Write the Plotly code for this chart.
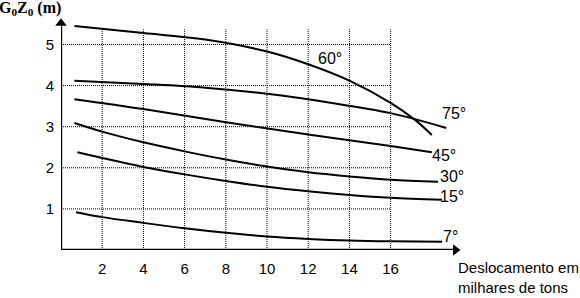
import plotly.graph_objects as go

# ---- data (x: thousands of tons, y: G0Z0 in m) ----
x60 = [0.65, 4, 7, 10, 12, 14, 16, 17.2, 18.0]
y60 = [5.45, 5.28, 5.12, 4.83, 4.52, 4.12, 3.58, 3.16, 2.80]

x75 = [0.65, 4, 7, 10, 13, 16, 18.7]
y75 = [4.12, 4.04, 3.95, 3.80, 3.59, 3.33, 2.97]

x45 = [0.65, 4, 8, 12, 16, 18.0]
y45 = [3.67, 3.43, 3.11, 2.81, 2.53, 2.38]

x30 = [0.65, 2, 4, 6, 8, 10, 12, 14, 16, 18.3]
y30 = [3.09, 2.88, 2.62, 2.40, 2.20, 2.03, 1.89, 1.79, 1.71, 1.66]

x15 = [0.8, 2, 4, 6, 8, 10, 12, 14, 16, 18.5]
y15 = [2.38, 2.24, 2.02, 1.84, 1.68, 1.54, 1.43, 1.34, 1.27, 1.22]

x7 = [0.73, 2, 4, 6, 8, 10, 12, 14, 16, 18.5]
y7 = [0.92, 0.80, 0.66, 0.53, 0.42, 0.33, 0.27, 0.23, 0.21, 0.20]

series = [("60°", x60, y60), ("75°", x75, y75), ("45°", x45, y45),
          ("30°", x30, y30), ("15°", x15, y15), ("7°", x7, y7)]

# curve label positions (data coords)
labels = {"60°": (13.06, 4.65), "75°": (19.1, 3.33), "45°": (18.6, 2.31),
          "30°": (19.0, 1.78), "15°": (19.0, 1.31), "7°": (18.9, 0.32)}

xticks = [2, 4, 6, 8, 10, 12, 14, 16]
yticks = [1, 2, 3, 4, 5]

y_title = "<b>G<sub>0</sub>Z<sub>0</sub> (m)</b>"
x_title = ["Deslocamento em", "milhares de tons"]

x_axis_end = 19.15
y_axis_end = 5.52

# ---- figure ----
fig = go.Figure()
for name, xs, ys in series:
    fig.add_trace(go.Scatter(x=xs, y=ys, mode="lines", name=name,
                             line=dict(color="black", width=2, shape="spline", smoothing=1),
                             hoverinfo="skip", showlegend=False))

# arrowheads of the axes
fig.add_trace(go.Scatter(x=[x_axis_end, 0], y=[0, y_axis_end], mode="markers",
                         marker=dict(symbol=["triangle-right", "triangle-up"], size=10,
                                     color="black", line=dict(width=0)),
                         hoverinfo="skip", showlegend=False, cliponaxis=False))

shapes = []
grid_top = 5.37
for xv in xticks:
    shapes.append(dict(type="line", xref="x", yref="y", x0=xv, x1=xv, y0=0, y1=grid_top,
                       line=dict(color="black", width=1, dash="1px,1px"), layer="below"))
for yv in yticks:
    shapes.append(dict(type="line", xref="x", yref="y", x0=0, x1=16, y0=yv, y1=yv,
                       line=dict(color="black", width=1, dash="1px,1px"), layer="below"))
# axis lines
shapes.append(dict(type="line", xref="x", yref="y", x0=-0.05, x1=x_axis_end, y0=0, y1=0,
                   line=dict(color="black", width=2.4)))
shapes.append(dict(type="line", xref="x", yref="y", x0=0, x1=0, y0=-0.03, y1=y_axis_end,
                   line=dict(color="black", width=2.4)))

annotations = []
for name, (lx, ly) in labels.items():
    annotations.append(dict(x=lx, y=ly, xref="x", yref="y", text=name, showarrow=False,
                            font=dict(family="Liberation Sans, Arial", size=16, color="black")))
annotations.append(dict(x=-0.1235, y=0.966, xref="paper", yref="paper", text=y_title, showarrow=False,
                        xanchor="left", yanchor="middle",
                        font=dict(family="Liberation Serif, Times New Roman", size=16, color="black")))
annotations.append(dict(x=0.762, y=-0.068, xref="paper", yref="paper", text=x_title[0], showarrow=False,
                        xanchor="left", yanchor="middle",
                        font=dict(family="Liberation Sans, Arial", size=15, color="black")))
annotations.append(dict(x=0.762, y=-0.150, xref="paper", yref="paper", text=x_title[1], showarrow=False,
                        xanchor="left", yanchor="middle",
                        font=dict(family="Liberation Sans, Arial", size=15, color="black")))

fig.update_layout(
    width=580, height=298,
    margin=dict(l=61, r=0, t=0, b=48),
    paper_bgcolor="white", plot_bgcolor="white",
    shapes=shapes, annotations=annotations,
    xaxis=dict(range=[0, 519 / 20.6], tickvals=xticks, ticktext=[str(v) for v in xticks],
               showgrid=False, zeroline=False, showline=False, ticks="",
               tickfont=dict(family="Liberation Sans, Arial", size=15, color="black"),
               ticklabelstandoff=8, fixedrange=True),
    yaxis=dict(range=[0, 250 / 41.1], tickvals=yticks, ticktext=[str(v) for v in yticks],
               showgrid=False, zeroline=False, showline=False, ticks="",
               tickfont=dict(family="Liberation Sans, Arial", size=15, color="black"),
               ticklabelstandoff=6, fixedrange=True),
)

fig.write_html("out.html")
